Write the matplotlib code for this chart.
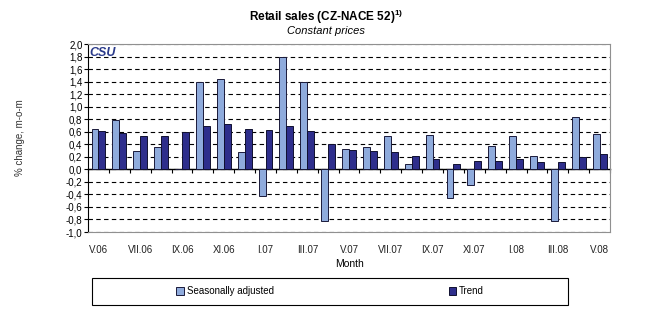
import numpy as np
import matplotlib
matplotlib.use("Agg")
import matplotlib.pyplot as plt
from matplotlib.ticker import FuncFormatter, MultipleLocator
from matplotlib.patches import Rectangle

plt.rcParams['font.family'] = ['Liberation Sans', 'DejaVu Sans']
plt.rcParams['mathtext.fontset'] = 'custom'
plt.rcParams['mathtext.rm'] = 'Liberation Sans'
plt.rcParams['mathtext.bf'] = 'Liberation Sans:bold'

# monthly data V.06 .. V.08
months = ['V.06', 'VI.06', 'VII.06', 'VIII.06', 'IX.06', 'X.06', 'XI.06', 'XII.06',
          'I.07', 'II.07', 'III.07', 'IV.07', 'V.07', 'VI.07', 'VII.07', 'VIII.07',
          'IX.07', 'X.07', 'XI.07', 'XII.07', 'I.08', 'II.08', 'III.08', 'IV.08', 'V.08']
seas_adj = [0.65, 0.79, 0.30, 0.35, 0.01, 1.40, 1.44, 0.28, -0.43, 1.80, 1.39, -0.83,
            0.33, 0.36, 0.54, 0.09, 0.55, -0.46, -0.25, 0.38, 0.53, 0.21, -0.83, 0.83, 0.57]
trend = [0.61, 0.58, 0.54, 0.54, 0.60, 0.70, 0.72, 0.64, 0.63, 0.70, 0.61, 0.41,
         0.31, 0.29, 0.27, 0.22, 0.16, 0.08, 0.14, 0.14, 0.16, 0.12, 0.11, 0.20, 0.24]

x = np.arange(len(months))
w = 0.33

fig = plt.figure(figsize=(6.49, 3.22), dpi=100)
ax = fig.add_axes([0.1356, 0.2795, 0.8044, 0.5835])

ax.bar(x - w/2, seas_adj, w, color='#8fabdc', edgecolor='#1a1a3a', linewidth=0.7,
       label='Seasonally adjusted', zorder=3)
ax.bar(x + w/2, trend, w, color='#2e2e8c', edgecolor='#101030', linewidth=0.7,
       label='Trend', zorder=3)

ax.set_xlim(-0.5, len(months) - 0.5)
ax.set_ylim(-1.0, 2.0)
ax.yaxis.set_major_locator(MultipleLocator(0.2))
ax.yaxis.set_major_formatter(FuncFormatter(lambda v, p: ('%.1f' % v).replace('.', ',').replace('-0,0', '0,0')))
ax.yaxis.grid(True, color='black', linestyle=(0, (4, 3)), linewidth=0.8, zorder=0)
ax.tick_params(axis='y', labelsize=7, length=3, direction='out', pad=1)

ax.set_xticks(x[::2])
ax.set_xticklabels(months[::2], fontsize=7, color='#222222')
ax.tick_params(axis='x', length=0, pad=9)
ax.set_xlabel('Month', fontsize=7.5, labelpad=3)
ax.set_ylabel('% change, m-o-m', fontsize=7, color='#333333', labelpad=29)

for s in ['top', 'right', 'bottom']:
    ax.spines[s].set_color('#909090')
ax.spines['left'].set_color('black')

# zero axis with boundary ticks
sec = ax.secondary_xaxis(1/3)
sec.set_xticks(np.arange(-0.5, len(months), 1.0))
sec.set_xticklabels([])
sec.tick_params(length=3, direction='out', color='black')
sec.spines['bottom'].set_color('black')
sec.spines['bottom'].set_linewidth(1.0)

ax.text(0.003, 0.985, 'CSU', transform=ax.transAxes, fontsize=9, fontweight='bold',
        color='#2a3a8a', ha='left', va='top', style='italic')

fig.text(0.502, 0.948, r'Retail sales (CZ-NACE 52)$^{\mathbf{1)}}$', ha='center', va='center',
         fontsize=8.5, fontweight='bold')
fig.text(0.502, 0.905, 'Constant prices', ha='center', va='center', fontsize=8, style='italic')

fig.patches.append(Rectangle((92/649, 1 - 305/322), 476/649, 27/322, transform=fig.transFigure,
                             fill=False, edgecolor='black', linewidth=0.8))
fig.legend(loc='center', bbox_to_anchor=(330/649, 1 - 291.5/322), ncol=2, frameon=False,
           fontsize=7, handlelength=0.8, handleheight=0.8, handletextpad=0.3, columnspacing=18)

fig.savefig('out.png', dpi=100)
